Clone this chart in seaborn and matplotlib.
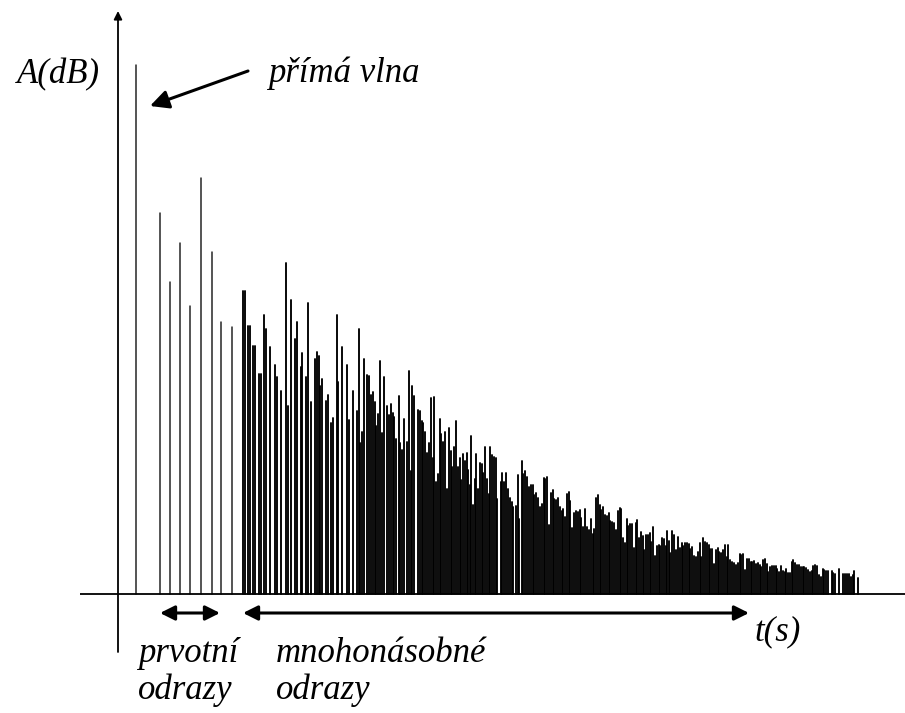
import matplotlib
matplotlib.use("Agg")
import matplotlib.pyplot as plt
import seaborn as sns
import pandas as pd

# ---- data (time in px-like units from the amplitude axis, amplitude in arbitrary units) ----
t_direct = [18]
a_direct = [529]

t_early = [42, 52, 62, 72, 83, 94, 103, 114]
a_early = [381, 312, 351, 288, 416, 342, 272, 267]

t_late = [
    125, 126.5, 130, 132, 135, 137, 141, 143, 146.3, 148, 151.7, 157, 158.7, 162.7, 168, 170,
    173.3, 177, 179, 182.7, 184.3, 188, 189.7, 193, 197, 198.7, 200.7, 202.3, 204.3, 207.7,
    209.7, 213.3, 215, 218.7, 220.3, 224, 229.3, 231, 235, 238.7, 240.7, 242.3, 244.3, 246,
    249.3, 251.3, 253, 255, 256.7, 258.3, 260.3, 262, 264, 265.7, 269, 271, 273, 274.7, 276.3,
    278.3, 280.7, 282, 283.7, 285.7, 289.3, 291, 292.7, 294.3, 296.3, 300, 302, 303.7, 305.3,
    307, 309.3, 311, 312.7, 314.7, 316.3, 318.3, 320, 321.7, 323.3, 325.3, 327, 328.7, 331,
    332.7, 334.3, 336.3, 338, 339.7, 341.7, 343.3, 345, 347, 348.7, 350.3, 352, 353.3, 355,
    356.7, 358.3, 360.3, 362, 363.7, 365.3, 367, 369, 370.7, 372.3, 374, 376, 377.7, 379.3,
    382.7, 384.3, 386.3, 388, 389.7, 391.7, 393.5, 395.3, 397.5, 399.5, 401.3, 403.7, 405.3,
    407.3, 409, 411, 413, 414.7, 416.3, 418.3, 420, 421.7, 423.7, 425.7, 427.3, 429.3, 431,
    432.7, 434.7, 436.3, 438, 440, 441.7, 443.7, 445.3, 447, 449, 450.7, 452.3, 454, 456, 458,
    459.7, 461.7, 463.3, 465.3, 467.3, 469, 471, 472.7, 474.7, 476.3, 478, 480, 481.7, 483.3,
    485.3, 487, 489, 490.7, 492.3, 494.3, 496, 498, 499.7, 501.7, 503.3, 505, 507, 508.7,
    510.3, 512.3, 514, 515.7, 517.7, 519.3, 521, 523, 524.7, 526.3, 528, 530, 531.7, 533.3,
    535.3, 537, 539, 541, 542.3, 544.3, 546, 547.7, 549, 550.7, 552.3, 554.3, 556.3, 558,
    559.7, 561.7, 563.7, 565.3, 567, 568.7, 570.7, 572.3, 574.3, 576, 578, 579.7, 581.7,
    583.3, 585.3, 587, 588.7, 590.7, 592.3, 594.3, 596, 597.7, 599.7, 601.3, 603, 605, 607,
    608.7, 610.3, 612.3, 614, 616, 618, 619.7, 621.7, 623.3, 625.3, 627, 629, 630.7, 632.7,
    634.3, 636.3, 638, 639.7, 641.7, 643.3, 645, 647, 648.7, 650.3, 652.3, 654, 656, 657.7,
    659.3, 661.3, 663, 664.7, 666.7, 668.3, 670, 672, 673.7, 675.3, 677.3, 679, 681, 682.7,
    684.7, 686.3, 688, 690, 691.7, 693.7, 695.3, 697.3, 699, 700.7, 702.7, 704.7, 706.3,
    708.3, 710, 713.7, 715.3, 717.3, 720.7, 725.3, 727.3, 729.3, 731, 733, 734.7, 736.3, 739.7,
]
a_late = [
    303, 303, 268, 268, 248, 248, 220, 220, 279, 265, 247, 229, 217, 203, 331, 188,
    294, 255, 272, 227, 241, 217, 291, 192, 235, 242, 238, 208, 215, 193,
    199, 171, 176, 279, 212, 247, 229, 174, 203, 183, 265, 151, 162, 235,
    219, 218, 199, 202, 192, 168, 180, 233, 161, 217, 188, 179, 190, 181, 177,
    155, 198, 151, 144, 175, 152, 223, 123, 208, 198, 184, 183, 173, 171,
    162, 141, 151, 196, 136, 197, 112, 120, 175, 160, 152, 162, 105, 166,
    143, 127, 147, 173, 127, 136, 114, 140, 133, 141, 124, 109, 158, 89,
    115, 140, 105, 131, 130, 121, 147, 115, 100, 147, 139, 137, 136, 95,
    112, 121, 112, 121, 105, 96, 92, 87, 88, 119, 75, 133, 120,
    123, 117, 107, 109, 109, 99, 101, 96, 87, 90, 116, 115, 117, 69,
    101, 104, 95, 94, 96, 87, 83, 85, 77, 100, 102, 93, 66, 81, 83,
    82, 84, 76, 67, 85, 67, 64, 75, 60, 65, 96, 99, 89, 84,
    87, 79, 78, 81, 73, 72, 71, 64, 83, 86, 85, 56, 51, 75,
    68, 70, 70, 46, 71, 74, 56, 62, 58, 44, 59, 59, 61, 52,
    67, 38, 48, 49, 48, 56, 55, 48, 63, 53, 41, 63, 59, 44,
    57, 46, 51, 48, 51, 51, 50, 45, 47, 38, 37, 42, 51,
    37, 56, 52, 51, 49, 45, 45, 30, 44, 46, 42, 41, 44, 49,
    37, 49, 34, 32, 31, 29, 31, 40, 39, 40, 24, 35, 35, 32,
    32, 33, 30, 31, 29, 27, 34, 35, 30, 22, 27, 28, 28, 28,
    25, 22, 28, 23, 22, 25, 21, 21, 32, 34, 31, 29, 29, 27,
    27, 27, 26, 24, 22, 23, 28, 29, 28, 19, 17, 25, 24,
    23, 23, 23, 21, 20, 25, 20, 20, 20, 20, 17, 19, 23, 16,
]

labels_y = "A(dB)"
label_x = "t(s)"
label_direct = "přímá vlna"
label_early = ["prvotní", "odrazy"]
label_late = ["mnohonásobné", "odrazy"]

# ---- build long table: one unit per stem (from 0 up to amplitude) ----
rows = []
uid = 0
for grp, ts, amps in (("direct", t_direct, a_direct),
                      ("early", t_early, a_early),
                      ("late", t_late, a_late)):
    for t, a in zip(ts, amps):
        rows.append({"t": t, "a": 0.0, "id": uid, "grp": grp})
        rows.append({"t": t, "a": a, "id": uid, "grp": grp})
        uid += 1
df = pd.DataFrame(rows)

sns.set_theme(style="white")
plt.rcParams["font.family"] = ["Liberation Serif", "DejaVu Serif"]
plt.rcParams["text.color"] = "black"

fig = plt.figure(figsize=(9.05, 7.13), dpi=100)
ax = fig.add_axes([0, 0, 1, 1])

sns.lineplot(data=df[df.grp != "late"], x="t", y="a", units="id", estimator=None,
             color="#262626", lw=1.1, sort=False, ax=ax, legend=False)
sns.lineplot(data=df[df.grp == "late"], x="t", y="a", units="id", estimator=None,
             color="black", lw=1.35, sort=False, ax=ax, legend=False)

ax.set_xlim(-118, 787)
ax.set_ylim(-119, 594)
ax.set_axis_off()

# axes with arrows
ax.plot([-38, 787], [0, 0], color="black", lw=1.3, solid_capstyle="butt")
ax.annotate("", xy=(0, 583), xytext=(0, -58),
            arrowprops=dict(arrowstyle="-|>", lw=1.3, color="black",
                            mutation_scale=12, shrinkA=0, shrinkB=0))

# text labels
fs = 25
ax.text(-60, 511, labels_y, fontsize=fs, style="italic", ha="center", va="baseline")
ax.text(150, 512, label_direct, fontsize=fs, style="italic", ha="left", va="baseline")
ax.annotate("", xy=(32, 488), xytext=(130, 523),
            arrowprops=dict(arrowstyle="-|>", lw=2.2, color="black",
                            mutation_scale=28, shrinkA=0, shrinkB=0))

# reflection ranges
ax.annotate("", xy=(42, -19), xytext=(102, -19),
            arrowprops=dict(arrowstyle="<|-|>", lw=2.2, color="black",
                            mutation_scale=22, shrinkA=0, shrinkB=0))
ax.annotate("", xy=(125, -19), xytext=(631, -19),
            arrowprops=dict(arrowstyle="<|-|>", lw=2.2, color="black",
                            mutation_scale=22, shrinkA=0, shrinkB=0))

ax.text(20, -68, label_early[0], fontsize=fs, style="italic", ha="left", va="baseline")
ax.text(20, -105, label_early[1], fontsize=fs, style="italic", ha="left", va="baseline")
ax.text(158, -68, label_late[0], fontsize=fs, style="italic", ha="left", va="baseline")
ax.text(158, -105, label_late[1], fontsize=fs, style="italic", ha="left", va="baseline")
ax.text(636, -46, label_x, fontsize=fs, style="italic", ha="left", va="baseline")

fig.savefig("out.png", dpi=100, facecolor="white")
